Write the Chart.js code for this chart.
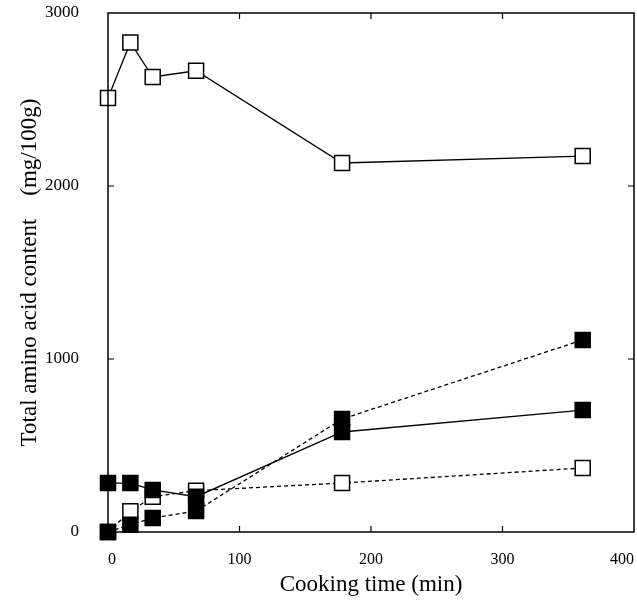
<!DOCTYPE html>
<html>
<head>
<meta charset="utf-8">
<script src="https://cdn.jsdelivr.net/npm/chart.js@4.4.1/dist/chart.umd.min.js"></script>
<style>
html,body{margin:0;padding:0;background:#fff;}
#wrap{width:637px;height:601px;}
</style>
</head>
<body>
<div id="wrap"><canvas id="c" width="637" height="601"></canvas></div>
<script>
const cookingTimes = [0, 17, 34, 67, 178, 361];
const openSolid   = [2509, 2830, 2630, 2666, 2133, 2173];
const openDashed  = [0, 120, 204, 239, 283, 370];
const filledSolid = [283, 283, 243, 204, 578, 705];
const filledDashed= [0, 42, 81, 121, 653, 1110];
const xTicks = [0, 100, 200, 300, 400];
const yTicks = [0, 1000, 2000, 3000];

function pts(vals){ return cookingTimes.map((t,i)=>({x:t,y:vals[i]})); }

const serif = '"Liberation Serif", "DejaVu Serif", serif';

const frame = {
  id:'frame',
  afterDatasetsDraw(chart){
    const {ctx, chartArea:a, scales:{x,y}} = chart;
    ctx.save();
    ctx.strokeStyle='#000';
    ctx.lineWidth=1.5;
    ctx.strokeRect(a.left, a.top, a.right-a.left, a.bottom-a.top);
    ctx.lineWidth=1.2;
    const L=6;
    ctx.beginPath();
    xTicks.slice(1,-1).forEach(v=>{
      const px=x.getPixelForValue(v);
      ctx.moveTo(px,a.bottom); ctx.lineTo(px,a.bottom-L);
      ctx.moveTo(px,a.top); ctx.lineTo(px,a.top+L);
    });
    yTicks.slice(1,-1).forEach(v=>{
      const py=y.getPixelForValue(v);
      ctx.moveTo(a.left,py); ctx.lineTo(a.left+L,py);
      ctx.moveTo(a.right,py); ctx.lineTo(a.right-L,py);
    });
    ctx.stroke();
    ctx.restore();
  }
};

function ds(vals, filled, dashed){
  return {
    data: pts(vals),
    borderColor:'#000',
    borderWidth:1.3,
    borderDash: dashed ? [4,3] : [],
    pointStyle:'rect',
    pointRadius:10.6,
    pointHoverRadius:10.6,
    pointBackgroundColor: filled ? '#000' : '#fff',
    pointBorderColor:'#000',
    pointBorderWidth:1.5,
    fill:false,
    tension:0,
    clip:false
  };
}

new Chart(document.getElementById('c'), {
  type:'line',
  data:{
    datasets:[
      ds(filledSolid, true, false),
      ds(filledDashed, true, true),
      ds(openSolid, false, false),
      ds(openDashed, false, true)
    ]
  },
  options:{
    responsive:false,
    animation:false,
    devicePixelRatio:1,
    layout:{autoPadding:false, padding:{top:13, right:3, left:0, bottom:0}},
    plugins:{legend:{display:false}, tooltip:{enabled:false}},
    scales:{
      x:{
        type:'linear', min:0, max:400,
        afterBuildTicks(s){ s.ticks = xTicks.map(v=>({value:v})); },
        afterFit(s){ s.height = 69; s.paddingLeft = 0; s.paddingRight = 0; },
        grid:{display:false},
        border:{display:false},
        ticks:{padding:10, align:'inner', color:'#000', font:{family:serif, size:16}, maxRotation:0, callback:(v)=>String(v)},
        title:{display:true, text:'Cooking time (min)', color:'#000', font:{family:serif, size:23}, padding:{top:0,bottom:2}}
      },
      y:{
        type:'linear', min:0, max:3000,
        afterBuildTicks(s){ s.ticks = yTicks.map(v=>({value:v})); },
        afterFit(s){ s.width = 108; s.paddingTop = 0; s.paddingBottom = 0; },
        grid:{display:false},
        border:{display:false},
        ticks:{padding:21, color:'#000', font:{family:serif, size:17}, callback:(v)=>String(v)},
        title:{display:true, text:'Total amino acid content    (mg/100g)', color:'#000', font:{family:serif, size:23}, padding:{top:16,bottom:0}}
      }
    }
  },
  plugins:[frame]
});
</script>
</body>
</html>
